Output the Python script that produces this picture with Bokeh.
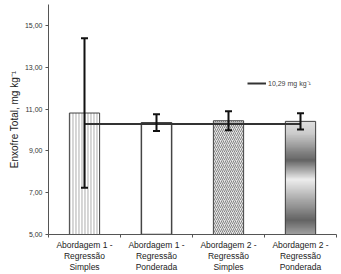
import numpy as np
from bokeh.plotting import figure
from bokeh.models import (FixedTicker, ColumnDataSource, Whisker, TeeHead, Legend, LegendItem,
                          Range1d)
from bokeh.embed import file_html
from bokeh.resources import INLINE

categories = ["Abordagem 1 -\nRegressão\nSimples", "Abordagem 1 -\nRegressão\nPonderada",
              "Abordagem 2 -\nRegressão\nSimples", "Abordagem 2 -\nRegressão\nPonderada"]
values = [10.81, 10.35, 10.44, 10.41]
errors = [3.57, 0.40, 0.46, 0.39]
ref_value = 10.29
ref_label = "10,29 mg kg⁻¹"
y_ticks = [5, 7, 9, 11, 13, 15]
y_tick_labels = ["5,00", "7,00", "9,00", "11,00", "13,00", "15,00"]
y_label = "Enxofre Total, mg kg⁻¹"

FONT = "Liberation Sans"
xs = np.arange(len(categories)) + 0.5
vals = np.array(values)
errs = np.array(errors)
bw = 0.42
y0 = y_ticks[0]

p = figure(width=341, height=274, output_backend="svg", toolbar_location=None,
           x_range=Range1d(0, 4), y_range=Range1d(y0, 16.0),
           min_border_left=48, min_border_right=5, min_border_top=4, min_border_bottom=38)
p.outline_line_color = None
p.xgrid.visible = False
p.ygrid.visible = False

# bar 1: vertical stripes
p.vbar(x=xs[0:1], top=vals[0:1], bottom=y0, width=bw, fill_color="#d4d4d4",
       hatch_pattern="|", hatch_color="white", hatch_scale=3, hatch_weight=1.2,
       line_color="#444444", line_width=1)
# bar 2: plain white
p.vbar(x=xs[1:2], top=vals[1:2], bottom=y0, width=bw, fill_color="white",
       line_color="#444444", line_width=1.5)
# bar 3: diagonal hatch
p.vbar(x=xs[2:3], top=vals[2:3], bottom=y0, width=bw, fill_color="#e6e6e6",
       hatch_pattern="/", hatch_color="#858585", hatch_scale=4, hatch_weight=1,
       line_color="#444444", line_width=1)
# bar 4: gradient built from slices
n = 120
edges = np.linspace(y0, vals[3], n + 1)
t = (0.5 * (edges[:-1] + edges[1:]) - y0) / (vals[3] - y0)
g = np.interp(t, [0, 0.13, 0.49, 0.66, 0.9, 1.0], [165, 100, 238, 100, 205, 222]).astype(int)
cols = ["#%02x%02x%02x" % (v, v, v) for v in g]
p.quad(left=xs[3] - bw / 2, right=xs[3] + bw / 2, bottom=edges[:-1], top=edges[1:],
       fill_color=cols, line_color=cols, line_width=1)
p.vbar(x=xs[3:4], top=vals[3:4], bottom=y0, width=bw, fill_color=None,
       line_color="#444444", line_width=1)

# reference line
line_r = p.line(x=xs, y=[ref_value] * len(xs), line_color="#333333", line_width=2)

# error bars
src = ColumnDataSource(dict(x=xs, up=vals + errs, lo=vals - errs))
w = Whisker(base="x", upper="up", lower="lo", source=src, line_color="#111111", line_width=2,
            level="annotation",
            upper_head=TeeHead(size=7, line_color="#111111", line_width=2),
            lower_head=TeeHead(size=7, line_color="#111111", line_width=2))
p.add_layout(w)

legend = Legend(items=[LegendItem(label=ref_label, renderers=[line_r])],
                location=(199, 146), glyph_width=19, glyph_height=10, label_height=10,
                label_text_font_size="7px", label_text_font=FONT, label_standoff=2,
                padding=0, margin=0, spacing=0, border_line_alpha=0, background_fill_alpha=0)
p.add_layout(legend)

# x axis: boundary ticks (minor), labels at category centres
p.xaxis.ticker = FixedTicker(ticks=list(xs), minor_ticks=list(np.arange(len(categories) + 1)))
p.xaxis.major_label_overrides = {float(x): c for x, c in zip(xs, categories)}
p.xaxis.major_tick_out = 0
p.xaxis.major_tick_in = 0
p.xaxis.minor_tick_out = 3
p.xaxis.minor_tick_in = 0
p.xaxis.major_label_text_font = FONT
p.xaxis.major_label_text_font_size = "8.5px"
p.xaxis.major_label_text_color = "#222222"
p.xaxis.major_label_text_line_height = 1.12
p.xaxis.major_label_standoff = 2
p.xaxis.axis_line_color = "#555555"
p.xaxis.minor_tick_line_color = "#555555"

p.yaxis.ticker = FixedTicker(ticks=y_ticks)
p.yaxis.major_label_overrides = {t_: l for t_, l in zip(y_ticks, y_tick_labels)}
p.yaxis.major_tick_out = 3
p.yaxis.major_tick_in = 0
p.yaxis.minor_tick_line_color = None
p.yaxis.major_label_text_font = FONT
p.yaxis.major_label_text_font_size = "7px"
p.yaxis.major_label_text_color = "#333333"
p.yaxis.major_label_standoff = 3
p.yaxis.axis_line_color = "#555555"
p.yaxis.major_tick_line_color = "#555555"
p.yaxis.axis_label = y_label
p.yaxis.axis_label_text_font = FONT
p.yaxis.axis_label_text_font_size = "10px"
p.yaxis.axis_label_text_font_style = "normal"
p.yaxis.axis_label_text_color = "#222222"
p.yaxis.axis_label_standoff = 2

open("out.html", "w").write(file_html(p, INLINE))
